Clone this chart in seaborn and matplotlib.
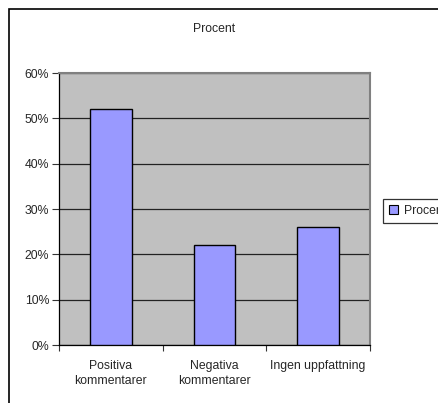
import matplotlib
matplotlib.use("Agg")
import matplotlib.pyplot as plt
import seaborn as sns
import pandas as pd
from matplotlib.patches import Rectangle
from matplotlib.ticker import FuncFormatter, FixedLocator

categories = ["Positiva\nkommentarer", "Negativa\nkommentarer", "Ingen uppfattning"]
values = [0.52, 0.22, 0.26]
series_name = "Procent"
y_ticks = [0.0, 0.1, 0.2, 0.3, 0.4, 0.5, 0.6]

sns.set_style("white")
plt.rcParams["font.family"] = ["Liberation Sans", "DejaVu Sans"]

FS = 8.8
W, H = 438, 403
fig = plt.figure(figsize=(W / 100, H / 100), dpi=100)
fig.patch.set_facecolor("white")

# outer chart frame
fig.patches.append(Rectangle((9 / W, -0.05), 1.2, 1 - 9 / H + 0.05,
                             transform=fig.transFigure, fill=False,
                             edgecolor="black", linewidth=1.2))

left, right, top, bottom = 59, 370, 73, 345
ax = fig.add_axes([left / W, 1 - bottom / H, (right - left) / W, (bottom - top) / H])
ax.set_facecolor("#C0C0C0")

df = pd.DataFrame({"cat": categories, "val": values})
sns.barplot(data=df, x="cat", y="val", ax=ax, color="#9999FF", width=0.4,
            edgecolor="black", linewidth=1.0, saturation=1, zorder=3, label=series_name)

ax.set_xlim(-0.5, 2.5)
ax.set_ylim(0, 0.6)
ax.set_yticks(y_ticks)
ax.yaxis.set_major_formatter(FuncFormatter(lambda v, p: f"{int(round(v * 100))}%"))
ax.grid(axis="y", color="#222222", linewidth=0.9, zorder=1)
ax.set_axisbelow(True)
ax.set_xlabel("")
ax.set_ylabel("")

ax.xaxis.set_minor_locator(FixedLocator([-0.5, 0.5, 1.5, 2.5]))
ax.tick_params(axis="x", which="major", length=0, labelsize=FS, pad=11)
ax.tick_params(axis="x", which="minor", length=4, width=0.8, color="#333333", direction="out")
ax.tick_params(axis="y", length=5, width=0.8, color="#333333", direction="out", labelsize=FS, pad=2)
ax.tick_params(bottom=True, left=True, which="both")
for lbl in ax.get_xticklabels():
    lbl.set_linespacing(1.35)

for side in ["top", "right"]:
    ax.spines[side].set_color("#808080")
    ax.spines[side].set_linewidth(1.5)
ax.spines["left"].set_color("black")
ax.spines["bottom"].set_color("black")
ax.spines["left"].set_linewidth(0.9)
ax.spines["bottom"].set_linewidth(0.9)
for s in ax.spines.values():
    s.set_visible(True)

if ax.get_legend() is not None:
    ax.get_legend().remove()

fig.text((left + right) / 2 / W, 1 - 29 / H, "Procent", ha="center", va="center", fontsize=FS)

handles = [Rectangle((0, 0), 1, 1, facecolor="#9999FF", edgecolor="black", linewidth=0.8)]
leg = fig.legend(handles, [series_name], loc="upper left",
                 bbox_to_anchor=(383 / W, 1 - 199 / H), fontsize=FS, frameon=True,
                 fancybox=False, handlelength=0.75, handleheight=0.75, handletextpad=0.45,
                 borderpad=0.5, borderaxespad=0)
leg.get_frame().set_edgecolor("black")
leg.get_frame().set_linewidth(0.9)

fig.savefig("out.png", dpi=100)
